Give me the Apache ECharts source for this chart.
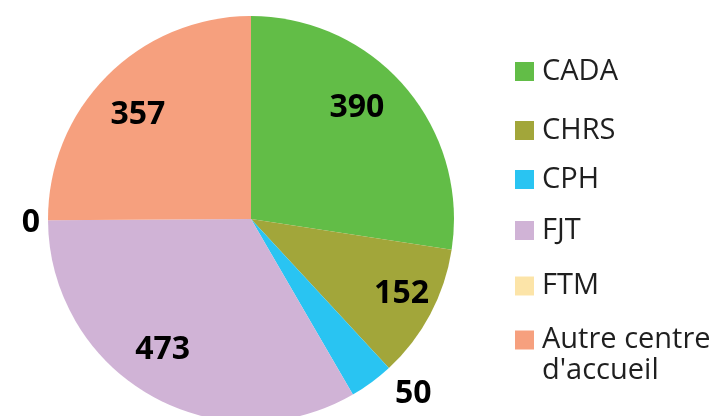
<!DOCTYPE html>
<html>
<head>
<meta charset="utf-8">
<script src="https://cdn.jsdelivr.net/npm/echarts@6/dist/echarts.min.js"></script>
<style>
  html, body { margin: 0; padding: 0; background: #ffffff; }
  #chart { width: 719px; height: 416px; }
</style>
</head>
<body>
<div id="chart"></div>
<script>
// Accommodation types and counts
const categories = ['CADA', 'CHRS', 'CPH', 'FJT', 'FTM', "Autre centre d'accueil"];
const values = [390, 152, 50, 473, 0, 357];

// Slice colours, in category order
const sliceColors = ['#62bd47', '#a2a63a', '#29c4f2', '#d0b3d6', '#fce4a8', '#f6a07e'];

// Small slices get their value written just outside the pie
const outsideLabelLines = {
  'CPH': { length: 14, length2: 10 },
  'FTM': { length: 3, length2: 0 }
};

// Small hand adjustments of value labels away from the slice mid-line
const labelNudge = {
  'CADA': [-14, -8],
  'CHRS': [11, 1],
  'FJT': [-10, -6],
  'FTM': [0, 3],
  "Autre centre d'accueil": [-1, 7]
};

// Vertical centre of each legend entry's marker
const legendCenters = [71.5, 130.5, 179.5, 230.5, 286, 340];

const CX = 251, CY = 219, R = 203;
const labelFont = {
  fontFamily: 'Open Sans', fontWeight: 'bold', fontSize: 32, color: '#000000',
  formatter: '{c}'
};

const chart = echarts.init(document.getElementById('chart'), null, { renderer: 'canvas' });

const mainData = categories.map((name, i) => {
  const out = outsideLabelLines[name];
  const item = {
    name: name,
    value: values[i],
    itemStyle: { color: sliceColors[i] },
    label: { show: !!out, offset: labelNudge[name] || [0, 0] }
  };
  if (out) item.labelLine = { show: false, length: out.length, length2: out.length2 };
  return item;
});

// Same slices again, drawn invisibly as a ring, only to carry the in-slice value labels
const labelData = categories.map((name, i) => ({
  name: name,
  value: values[i],
  label: { show: !outsideLabelLines[name], offset: labelNudge[name] || [0, 0] }
}));

// Long names wrap onto a second line; a leading empty line keeps the
// first line level with the marker
function legendText(name) {
  return name === "Autre centre d'accueil" ? "\nAutre centre\nd'accueil" : name;
}

const legends = categories.map((name, i) => {
  const twoLines = legendText(name).indexOf('\n') >= 0;
  const boxOffset = twoLines ? 46.5 : 15.5;
  return {
    data: [name],
    orient: 'vertical',
    left: 515,
    top: legendCenters[i] - boxOffset,
    padding: 0,
    itemWidth: 19,
    itemHeight: 19,
    icon: 'rect',
    selectedMode: false,
    formatter: legendText,
    textStyle: {
      fontFamily: 'Open Sans',
      fontSize: 29,
      lineHeight: 31,
      color: '#1f1f1f',
      padding: [0, 0, 0, 3]
    }
  };
});

chart.setOption({
  backgroundColor: '#ffffff',
  animation: false,
  legend: legends,
  series: [
    {
      type: 'pie',
      center: [CX, CY],
      radius: [0, R],
      startAngle: 90,
      clockwise: true,
      avoidLabelOverlap: false,
      silent: true,
      itemStyle: { borderWidth: 0 },
      label: Object.assign({ position: 'outside', distanceToLabelLine: 5 }, labelFont),
      labelLine: { show: false },
      emphasis: { disabled: true },
      data: mainData
    },
    {
      type: 'pie',
      center: [CX, CY],
      radius: [107, R],
      startAngle: 90,
      clockwise: true,
      silent: true,
      avoidLabelOverlap: false,
      itemStyle: { color: 'rgba(0,0,0,0)', borderWidth: 0 },
      label: Object.assign({ position: 'inside' }, labelFont),
      labelLine: { show: false },
      emphasis: { disabled: true },
      data: labelData
    }
  ]
});
</script>
</body>
</html>
